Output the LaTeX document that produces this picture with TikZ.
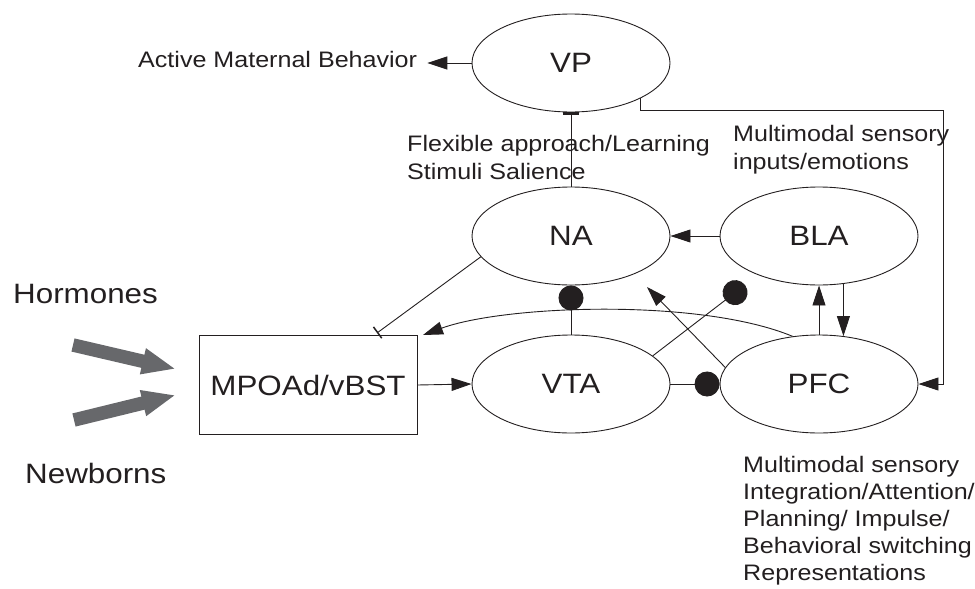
\documentclass[tikz,border=0pt]{standalone}
\usepackage{fontspec}
\setmainfont{Liberation Sans}[FakeStretch=1.12]
\usetikzlibrary{shapes.geometric,arrows.meta}
\definecolor{grayarrow}{HTML}{67686B}
\definecolor{ink}{HTML}{231F20}
\begin{document}
\begin{tikzpicture}[x=1pt,y=-1pt,
  every node/.style={text=ink},
  region/.style={ellipse,draw=ink,line width=0.9pt,minimum width=198pt,minimum height=98pt,inner sep=0pt,font=\fontsize{28}{33}\selectfont},
  boxnode/.style={rectangle,draw=ink,line width=0.9pt,minimum width=218pt,minimum height=99pt,inner sep=0pt,font=\fontsize{28}{33}\selectfont},
  lab/.style={inner sep=0pt,font=\fontsize{22.4}{28}\selectfont},
  labb/.style={inner sep=0pt,font=\fontsize{22.4}{26.8}\selectfont},
  big/.style={inner sep=0pt,font=\fontsize{28}{33}\selectfont},
  conn/.style={draw=ink,line width=0.9pt},
  arr/.style={conn,-{Triangle[length=20pt,width=13pt]}},
  ball/.style={conn,-{Circle[length=25pt]}},
  tbar/.style={conn,-{Bar[width=16pt,line width=3pt]}},
  tbarthin/.style={conn,-{Bar[width=14pt,line width=1.5pt]}},
  fat/.style={draw=grayarrow,line width=13.5pt,-{Triangle[length=34pt,width=24pt]}}
]
\useasboundingbox (0,0) rectangle (975,589);

% regions
\node[region] (VP)  at (571,63)  {VP};
\node[region] (NA)  at (571,236) {NA};
\node[region] (BLA) at (819,236) {BLA};
\node[region] (VTA) at (571,384) {VTA};
\node[region] (PFC) at (819,384) {PFC};
\node[boxnode] (MP) at (308,385) {MPOAd/vBST};

% labels
\node[lab,anchor=base west] (AMB) at (138,67) {Active Maternal Behavior};
\node[lab,anchor=north west,align=left] (FA) at (407,135.5) {Flexible approach/Learning\\Stimuli Salience};
\node[lab,anchor=north west,align=left] (MS) at (733,125.5) {Multimodal sensory\\inputs/emotions};
\node[labb,anchor=north west,align=left] (PL) at (743,456.5) {Multimodal sensory\\Integration/Attention/\\Planning/ Impulse/\\Behavioral switching\\Representations};
\node[big,anchor=base west] (H) at (13,303) {Hormones};
\node[big,anchor=base west] (N) at (25,483) {Newborns};

% free ends
\coordinate (h0) at (73,345);
\coordinate (h1) at (176,369);
\coordinate (n0) at (74,420);
\coordinate (n1) at (176,395);
\coordinate (corner) at (943,110);
\coordinate (t1) at (377,333);
\coordinate (t2) at (647,287);
\coordinate (t3) at (745,285);
\coordinate (c1) at (423,335);

% input arrows
\draw[fat] (h0) -- (h1);
\draw[fat] (n0) -- (n1);

% connectors
\draw[arr,shorten >=10pt] (VP.west) -- (VP.west -| AMB.east);
\draw[tbar] (NA.north) -- (VP.south);
\draw[arr] (VP.-27) |- (corner) |- (PFC.east);
\draw[arr] (BLA.west) -- (NA.east);
\draw[tbarthin] (NA.193) -- (t1);
\draw[ball] (VTA.north) -- (NA.south);
\draw[arr] (PFC.119) .. controls (700,298) and (505,305) .. (c1);
\draw[arr] (PFC.170) -- (t2);
\draw[ball] (VTA.19) -- (t3);
\draw[ball] (VTA.east) -- (PFC.west);
\draw[arr] (PFC.north) -- (BLA.south);
\draw[arr] (BLA.-63) -- (PFC.63);
\draw[arr] (MP.east) -- (VTA.west);
\end{tikzpicture}
\end{document}
